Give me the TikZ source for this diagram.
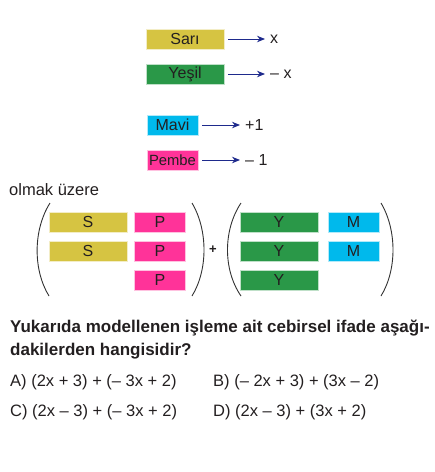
\documentclass[tikz,border=0pt]{standalone}
\usepackage{fontspec}
\setmainfont{Liberation Sans}
\usepackage{tikz}
\usetikzlibrary{arrows.meta,positioning,calc}
\definecolor{sariC}{RGB}{214,196,66}
\definecolor{yesilC}{RGB}{42,152,72}
\definecolor{maviC}{RGB}{0,185,236}
\definecolor{pembeC}{RGB}{255,51,153}
\definecolor{inkC}{RGB}{35,31,32}
\definecolor{arrowC}{RGB}{30,42,140}
\tikzset{
    tile/.style={rectangle, draw=white!70!#1, line width=0.6pt, fill=#1, inner sep=0pt, minimum height=20pt, text=inkC, font=\fontsize{16}{18}\selectfont},
    longtile/.style={tile=#1, minimum width=78pt},
    shorttile/.style={tile=#1, minimum width=51pt},
    value/.style={anchor=west, inner sep=0pt, text=inkC, font=\fontsize{16}{18}\selectfont},
    maparrow/.style={-{Stealth[length=8pt,width=6.5pt]}, arrowC, line width=1pt, shorten <=4pt, shorten >=5pt},
    paren/.style={black!80, line width=0.9pt},
    qtext/.style={anchor=base west, inner sep=0pt, text=inkC, font=\fontsize{16.5}{19}\selectfont},
}
\begin{document}
\begin{tikzpicture}[x=1pt, y=-1pt]
    \useasboundingbox (0,0) rectangle (435,472);

    % Legend
    \node[longtile=sariC] (sari) at (185,39) {Sarı};
    \node[value] (sariv) at (270,39) {x};
    \draw[maparrow] (sari.east) -- (sari.east -| sariv.west);

    \node[longtile=yesilC] (yesil) at (185,74) {Yeşil};
    \node[value] (yesilv) at (270,74) {– x};
    \draw[maparrow] (yesil.east) -- (yesil.east -| yesilv.west);

    \node[shorttile=maviC] (mavi) at (172.5,125) {Mavi};
    \node[value] (maviv) at (245,125) {+1};
    \draw[maparrow] (mavi.east) -- (mavi.east -| maviv.west);

    \node[shorttile=pembeC, font=\fontsize{14.8}{17}\selectfont] (pembe) at (172.5,160) {Pembe};
    \node[value] (pembev) at (245,160) {– 1};
    \draw[maparrow] (pembe.east) -- (pembe.east -| pembev.west);

    \node[qtext] (olmak) at (9,195) {olmak üzere};

    % First group
    \draw[paren] (50,203) .. controls (33,230) and (33,270) .. (49,296);
    \node[longtile=sariC] (s1) at (88,222) {S};
    \node[longtile=sariC] (s2) at (88,251) {S};
    \node[shorttile=pembeC] (p1) at (160,222) {P};
    \node[shorttile=pembeC] (p2) at (160,251) {P};
    \node[shorttile=pembeC] (p3) at (160,280) {P};
    \draw[paren] (192,203) .. controls (208,230) and (208,270) .. (192,296);

    \node[text=inkC, font=\fontsize{13}{14}\selectfont\bfseries] (plus) at (213,250) {+};

    % Second group
    \draw[paren] (241,203) .. controls (223,230) and (223,270) .. (241,296);
    \node[longtile=yesilC] (y1) at (279,222) {Y};
    \node[longtile=yesilC] (y2) at (279,251) {Y};
    \node[longtile=yesilC] (y3) at (279,280) {Y};
    \node[shorttile=maviC] (m1) at (353.5,222) {M};
    \node[shorttile=maviC] (m2) at (353.5,251) {M};
    \draw[paren] (381,203) .. controls (397,230) and (397,270) .. (381,296);

    % Question
    \node[qtext, font=\fontsize{17}{19}\selectfont\bfseries] (q1) at (10,332) {Yukarıda modellenen işleme ait cebirsel ifade aşağı-};
    \node[qtext, font=\fontsize{17}{19}\selectfont\bfseries] (q2) at (10,355) {dakilerden hangisidir?};
    \node[qtext] (optA) at (10,386) {A) (2x + 3) + (– 3x + 2)};
    \node[qtext] (optB) at (213,386) {B) (– 2x + 3) + (3x – 2)};
    \node[qtext] (optC) at (10,416) {C) (2x – 3) + (– 3x + 2)};
    \node[qtext] (optD) at (213,416) {D) (2x – 3) + (3x + 2)};
\end{tikzpicture}
\end{document}
